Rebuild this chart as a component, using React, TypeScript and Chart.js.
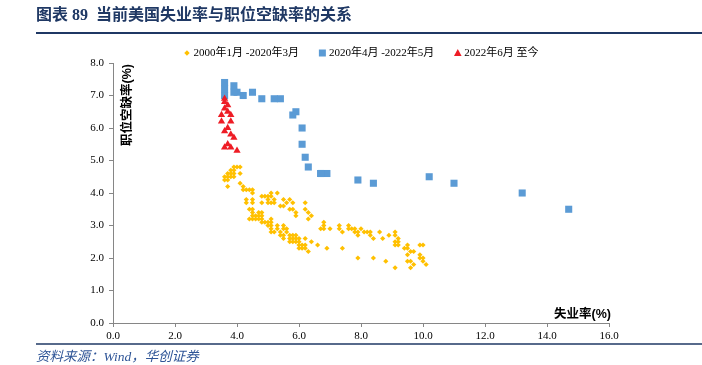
import React, { useEffect, useRef } from "react";
import { Chart, registerables } from "chart.js";

Chart.register(...registerables);

const titleText = "图表 89  当前美国失业率与职位空缺率的关系";
const sourceText = "资料来源：Wind，华创证券";
const xAxisTitle = "失业率(%)";
const yAxisTitle = "职位空缺率(%)";
const seriesNames = ["2000年1月 -2020年3月", "2020年4月 -2022年5月", "2022年6月 至今"];

// [unemployment %, job vacancy %]
const preCovidPoints: [number, number][] = [
  [3.9, 4.8], [4.0, 4.8], [4.1, 4.8],
  [3.8, 4.7], [3.9, 4.7],
  [3.7, 4.6], [3.8, 4.6], [3.9, 4.6], [4.1, 4.6],
  [3.6, 4.5], [3.7, 4.5], [3.8, 4.5], [3.9, 4.5],
  [3.6, 4.4], [3.7, 4.4],
  [4.1, 4.3],
  [3.7, 4.2], [4.2, 4.2],
  [4.2, 4.1], [4.3, 4.1], [4.4, 4.1], [4.5, 4.1],
  [4.5, 4.0], [5.1, 4.0], [5.3, 4.0],
  [4.8, 3.9], [4.9, 3.9], [5.0, 3.9], [5.1, 3.9],
  [4.3, 3.8], [4.5, 3.8], [5.0, 3.8], [5.2, 3.8], [5.5, 3.8], [5.7, 3.8],
  [4.3, 3.7], [4.5, 3.7], [4.8, 3.7], [5.0, 3.7], [5.1, 3.7], [5.2, 3.7], [5.6, 3.7], [5.8, 3.7], [6.2, 3.7],
  [5.4, 3.6], [5.5, 3.6],
  [4.4, 3.5], [4.5, 3.5], [5.7, 3.5], [5.8, 3.5], [6.2, 3.5],
  [4.5, 3.4], [4.7, 3.4], [4.8, 3.4], [5.9, 3.4], [6.3, 3.4],
  [4.5, 3.3], [4.6, 3.3], [4.7, 3.3], [4.8, 3.3], [5.9, 3.3], [6.4, 3.3],
  [4.4, 3.2], [4.5, 3.2], [4.6, 3.2], [4.7, 3.2], [4.8, 3.2], [5.1, 3.2], [6.3, 3.2],
  [4.8, 3.1], [4.9, 3.1], [5.0, 3.1], [5.1, 3.1], [6.8, 3.1],
  [5.0, 3.0], [5.1, 3.0], [5.3, 3.0], [5.5, 3.0], [6.8, 3.0], [7.3, 3.0], [7.6, 3.0],
  [5.1, 2.9], [5.3, 2.9], [5.5, 2.9], [5.6, 2.9], [6.7, 2.9], [6.8, 2.9], [7.0, 2.9], [7.3, 2.9], [7.6, 2.9], [7.7, 2.9], [7.8, 2.9], [8.0, 2.9],
  [5.1, 2.8], [5.2, 2.8], [5.4, 2.8], [5.6, 2.8], [7.4, 2.8], [7.8, 2.8], [7.9, 2.8], [8.1, 2.8], [8.2, 2.8], [8.3, 2.8], [8.6, 2.8], [9.1, 2.8],
  [5.4, 2.7], [5.5, 2.7], [5.7, 2.7], [5.8, 2.7], [5.9, 2.7], [7.9, 2.7], [8.3, 2.7], [8.9, 2.7], [9.1, 2.7],
  [5.5, 2.6], [5.7, 2.6], [5.8, 2.6], [5.9, 2.6], [6.0, 2.6], [6.2, 2.6], [8.4, 2.6], [8.7, 2.6], [9.2, 2.6],
  [5.7, 2.5], [5.8, 2.5], [5.9, 2.5], [6.0, 2.5], [6.4, 2.5], [9.1, 2.5], [9.2, 2.5],
  [6.0, 2.4], [6.1, 2.4], [6.2, 2.4], [6.6, 2.4], [9.1, 2.4], [9.2, 2.4], [9.5, 2.4], [9.9, 2.4], [10.0, 2.4],
  [6.0, 2.3], [6.1, 2.3], [6.2, 2.3], [6.9, 2.3], [7.4, 2.3], [9.4, 2.3], [9.5, 2.3],
  [6.3, 2.2], [9.6, 2.2], [9.7, 2.2],
  [9.5, 2.1], [9.9, 2.1],
  [7.9, 2.0], [8.4, 2.0], [9.9, 2.0], [10.0, 2.0],
  [8.8, 1.9], [9.5, 1.9], [9.6, 1.9], [10.0, 1.9],
  [9.7, 1.8], [10.1, 1.8],
  [9.1, 1.7], [9.6, 1.7],
];

const pandemicPoints: [number, number][] = [
  [14.7, 3.5], [13.2, 4.0], [11.0, 4.3], [10.2, 4.5], [8.4, 4.3], [7.9, 4.4],
  [6.9, 4.6], [6.7, 4.6], [6.7, 4.6], [6.3, 4.8], [6.2, 5.1], [6.1, 5.5],
  [6.1, 6.0], [5.8, 6.4], [5.9, 6.5], [5.4, 6.9], [5.2, 6.9], [4.8, 6.9],
  [4.5, 7.1], [4.2, 7.0], [4.0, 7.1], [3.9, 7.1], [3.9, 7.3], [3.6, 7.0],
  [3.6, 7.2], [3.6, 7.4],
];

const recentPoints: [number, number][] = [
  [3.6, 6.9], [3.6, 6.8], [3.7, 6.7], [3.6, 6.6], [3.7, 6.5], [3.5, 6.4],
  [3.8, 6.4], [3.5, 6.2], [3.8, 6.2], [3.7, 6.0], [3.6, 5.9], [3.8, 5.8],
  [3.9, 5.7], [3.7, 5.5], [3.6, 5.4], [3.8, 5.4], [4.0, 5.3],
];

const colors = ["#FFC000", "#5B9BD5", "#EE1C25"];
const NAVY = "#1F3864";
const SERIF = '"Liberation Serif", "Times New Roman", "Noto Sans CJK SC", serif';

const decorPlugin = {
  id: "decor",
  beforeDraw(chart: any) {
    const { ctx, width, height } = chart;
    ctx.save();
    ctx.fillStyle = "#ffffff";
    ctx.fillRect(0, 0, width, height);
    ctx.restore();
  },
  afterDraw(chart: any) {
    const { ctx, width, chartArea } = chart;
    ctx.save();
    // title
    ctx.fillStyle = NAVY;
    ctx.font = `bold 16px ${SERIF}`;
    ctx.textBaseline = "middle";
    ctx.textAlign = "left";
    ctx.fillText(titleText, 36, 16);
    ctx.strokeStyle = NAVY;
    ctx.lineWidth = 2;
    ctx.beginPath();
    ctx.moveTo(36, 33);
    ctx.lineTo(width, 33);
    ctx.stroke();
    // footer
    ctx.lineWidth = 1.5;
    ctx.beginPath();
    ctx.moveTo(36, 344);
    ctx.lineTo(width, 344);
    ctx.stroke();
    ctx.fillStyle = "#2F5597";
    ctx.font = `italic 13.5px ${SERIF}`;
    ctx.fillText(sourceText, 36, 357);

    // axis titles
    ctx.fillStyle = "#000000";
    ctx.font = 'bold 12.5px "Liberation Sans", "Noto Sans CJK SC", sans-serif';
    ctx.textAlign = "right";
    ctx.textBaseline = "middle";
    ctx.fillText(xAxisTitle, chartArea.right + 2, chartArea.bottom - 8);
    ctx.save();
    ctx.translate(chartArea.left + 15, chartArea.top + 1);
    ctx.rotate(-Math.PI / 2);
    ctx.fillText(yAxisTitle, 0, 0);
    ctx.restore();

    // legend
    ctx.font = `11px ${SERIF}`;
    ctx.textAlign = "left";
    ctx.textBaseline = "middle";
    const markerW = 7;
    const gapMarker = 3;
    const gapItem = 20;
    const widths = seriesNames.map((n) => markerW + gapMarker + ctx.measureText(n).width);
    const total = widths.reduce((a, b) => a + b, 0) + gapItem * (widths.length - 1);
    let x = (chartArea.left + chartArea.right) / 2 - total / 2;
    const ly = 53;
    seriesNames.forEach((name, i) => {
      const cx = x + markerW / 2;
      ctx.fillStyle = colors[i];
      ctx.beginPath();
      if (i === 0) {
        ctx.moveTo(cx, ly - 2.7);
        ctx.lineTo(cx + 2.7, ly);
        ctx.lineTo(cx, ly + 2.7);
        ctx.lineTo(cx - 2.7, ly);
        ctx.closePath();
      } else if (i === 1) {
        ctx.rect(cx - 3.5, ly - 3.5, 7, 7);
      } else {
        ctx.moveTo(cx, ly - 4);
        ctx.lineTo(cx + 3.8, ly + 3);
        ctx.lineTo(cx - 3.8, ly + 3);
        ctx.closePath();
      }
      ctx.fill();
      ctx.fillStyle = "#000000";
      ctx.fillText(name, x + markerW + gapMarker, ly + 0.5);
      x += widths[i] + gapItem;
    });
    ctx.restore();
  },
};

export default function App() {
  const ref = useRef<HTMLCanvasElement | null>(null);
  useEffect(() => {
    const canvas = ref.current;
    if (!canvas) return;
    const toData = (pts: [number, number][]) => pts.map(([x, y]) => ({ x, y }));
    const tickFont = { family: SERIF, size: 11 };
    const chart = new Chart(canvas, {
      type: "scatter",
      data: {
        datasets: [
          {
            label: seriesNames[2],
            data: toData(recentPoints),
            pointStyle: "triangle",
            pointRadius: 4.2,
            backgroundColor: colors[2],
            borderColor: colors[2],
            borderWidth: 0,
          },
          {
            label: seriesNames[1],
            data: toData(pandemicPoints),
            pointStyle: "rect",
            pointRadius: 5,
            backgroundColor: colors[1],
            borderColor: colors[1],
            borderWidth: 0,
          },
          {
            label: seriesNames[0],
            data: toData(preCovidPoints),
            pointStyle: "rectRot",
            pointRadius: 2.6,
            backgroundColor: colors[0],
            borderColor: colors[0],
            borderWidth: 0,
          },
        ],
      },
      options: {
        responsive: false,
        animation: false,
        devicePixelRatio: 1,
        layout: { padding: { left: 83, right: 93, top: 63, bottom: 20 } },
        plugins: {
          legend: { display: false },
          title: { display: false },
          tooltip: { enabled: false },
        },
        scales: {
          x: {
            type: "linear",
            min: 0,
            max: 16,
            ticks: {
              stepSize: 2,
              font: tickFont,
              color: "#000000",
              padding: 3,
              maxRotation: 0,
              callback: (v: any) => Number(v).toFixed(1),
            },
            grid: { display: true, drawOnChartArea: false, drawTicks: true, tickLength: 4, color: "#868686" },
            border: { display: true, color: "#868686", width: 1 },
            afterFit: (scale: any) => {
              scale.height = 22;
            },
          },
          y: {
            type: "linear",
            min: 0,
            max: 8,
            ticks: {
              stepSize: 1,
              font: tickFont,
              color: "#000000",
              padding: 5,
              callback: (v: any) => Number(v).toFixed(1),
            },
            grid: { display: true, drawOnChartArea: false, drawTicks: true, tickLength: 4, color: "#868686" },
            border: { display: true, color: "#868686", width: 1 },
            afterFit: (scale: any) => {
              scale.width = 30;
            },
          },
        },
      },
      plugins: [decorPlugin],
    });
    return () => chart.destroy();
  }, []);
  return (
    <div style={{ position: "absolute", left: 0, top: 0, width: 702, height: 365 }}>
      <canvas ref={ref} width={702} height={365} style={{ width: 702, height: 365, display: "block" }} />
    </div>
  );
}
